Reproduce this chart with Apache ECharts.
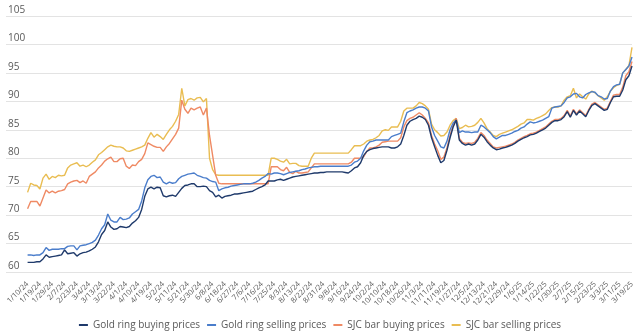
<!DOCTYPE html>
<html><head><meta charset="utf-8">
<script src="https://cdn.jsdelivr.net/npm/echarts@6/dist/echarts.min.js"></script>
<style>html,body{margin:0;padding:0;background:#fff}#c{width:640px;height:336px}</style>
</head><body><div id="c"></div>
<script>
const dateLabels = ['1/10/24','1/19/24','1/29/24','2/7/24','2/23/24','3/4/24','3/13/24','3/22/24','4/1/24','4/10/24','4/19/24','5/2/24','5/11/24','5/21/24','5/30/24','6/8/24','6/18/24','6/27/24','7/6/24','7/16/24','7/25/24','8/3/24','8/13/24','8/22/24','8/31/24','9/8/24','9/16/24','9/24/24','10/2/24','10/10/24','10/18/24','10/26/24','11/3/24','11/11/24','11/19/24','11/27/24','12/5/24','12/13/24','12/21/24','12/29/24','1/6/25','1/14/25','1/22/25','1/30/25','2/7/25','2/15/25','2/23/25','3/3/25','3/11/25','3/19/25'];
const pointsPerLabel = 4;
const seriesNames = ['Gold ring buying prices','Gold ring selling prices','SJC bar buying prices','SJC bar selling prices'];

const goldRingBuying = [61.7,61.7,61.7,61.8,61.8,62.3,63.0,62.6,62.7,62.8,62.9,63.0,63.9,63.2,63.3,63.4,62.8,
63.2,63.4,63.5,63.7,64.0,64.4,65.3,66.6,67.3,68.8,67.9,67.5,67.6,68.0,67.9,67.8,68.0,68.6,69.0,69.6,71.0,73.3,
74.6,74.9,74.6,74.9,74.8,73.4,73.2,73.4,73.5,73.3,74.0,74.7,75.2,75.3,75.5,75.5,75.0,75.0,75.1,75.0,
74.3,74.0,73.2,73.5,73.0,73.3,73.4,73.5,73.7,73.7,73.8,73.9,74.0,74.1,74.2,74.5,74.8,75.0,75.3,76.0,
76.0,76.0,76.2,76.3,76.1,76.3,76.5,76.7,76.8,76.9,77.0,77.1,77.2,77.3,77.4,77.4,77.5,77.5,77.6,77.6,77.6,77.6,77.6,77.6,77.5,77.4,
77.8,78.3,78.5,79.2,80.5,81.2,81.5,81.7,81.8,81.9,82.0,82.0,82.0,81.8,81.8,82.0,82.5,84.0,85.8,86.5,86.8,87.0,87.4,87.2,86.8,85.8,
83.6,82.0,80.5,79.2,79.6,81.4,83.6,85.5,86.7,83.2,82.6,82.3,82.5,82.3,82.5,83.2,84.2,83.7,82.9,82.3,81.8,81.5,81.6,81.8,81.9,82.1,82.3,82.6,83.0,83.3,
83.6,83.8,84.1,84.2,84.4,84.7,85.0,85.3,85.8,86.3,86.6,86.6,86.8,87.3,88.2,87.2,88.4,87.6,88.3,87.8,87.3,88.4,89.3,89.6,89.2,88.8,88.4,88.6,89.8,90.8,90.9,90.9,92.0,93.8,94.5,96.2];

const goldRingSelling = [63.0,63.0,62.9,63.0,63.0,63.4,64.3,63.8,64.0,64.0,64.0,64.1,64.1,64.5,64.6,64.6,63.9,
64.6,64.7,64.8,65.0,65.2,65.6,66.5,67.6,68.3,70.2,69.1,68.8,68.8,69.6,69.2,69.3,69.5,70.2,70.6,71.0,72.5,74.8,
76.2,76.8,77.0,76.6,76.7,75.8,75.5,75.8,75.6,75.7,76.4,76.8,77.0,77.2,77.3,77.4,77.0,76.8,76.6,76.5,
76.1,75.9,75.8,74.3,74.6,74.8,74.9,75.1,75.2,75.3,75.4,75.5,75.5,75.5,75.6,75.8,76.1,76.5,76.8,77.3,
77.2,77.4,77.4,77.3,77.1,77.3,77.5,77.6,77.7,77.8,78.0,78.1,78.3,78.4,78.5,78.5,78.6,78.6,78.6,78.6,78.6,78.6,78.6,78.6,78.6,78.6,
78.8,79.3,79.5,80.0,81.3,82.3,82.9,83.0,83.2,83.2,83.2,83.2,83.2,83.8,84.0,84.2,84.4,86.4,88.0,88.3,88.5,88.8,89.0,89.0,88.8,88.3,
85.5,84.0,83.0,82.0,81.8,83.0,85.0,86.2,86.7,84.5,84.8,84.6,84.6,84.5,84.6,84.6,85.8,85.5,85.0,84.5,83.8,83.4,83.7,84.0,84.0,84.2,84.4,84.7,84.9,85.3,
85.5,86.0,86.4,86.2,86.3,86.5,86.7,87.0,87.3,88.8,89.0,89.1,89.2,89.8,90.6,90.8,91.3,91.4,90.8,90.6,91.2,91.5,91.7,91.6,91.0,90.8,90.4,90.5,91.8,92.6,92.9,93.0,95.0,95.6,96.2,97.8];

const sjcBuying = [71.1,72.4,72.4,72.4,71.6,73.0,74.4,73.9,74.2,73.9,74.2,74.3,74.5,75.5,75.8,76.0,76.1,
75.7,76.0,75.6,76.8,77.2,77.6,78.3,78.8,79.5,79.9,80.2,79.4,79.4,79.9,80.0,78.6,78.2,78.8,78.7,79.4,79.8,80.8,
82.7,82.4,82.1,81.9,81.9,81.2,82.0,82.6,83.4,84.2,85.3,90.2,88.6,87.9,88.8,88.5,88.8,89.0,87.6,88.8,
84.0,80.5,77.0,75.6,75.5,75.5,75.5,75.5,75.5,75.5,75.5,75.5,75.5,75.5,75.5,75.5,75.5,75.5,75.5,75.5,
78.5,78.5,78.5,78.0,77.8,78.4,77.5,77.3,77.7,77.4,77.4,77.5,77.6,78.3,79.0,79.0,79.0,79.0,79.0,79.0,79.0,79.0,79.0,79.0,79.0,79.0,
79.3,80.0,80.0,80.0,80.3,81.2,81.8,81.8,82.0,82.3,82.8,82.9,83.0,83.0,83.0,83.0,83.6,85.5,86.6,87.0,87.2,87.6,88.0,87.6,87.0,86.2,
84.0,82.5,81.3,79.8,80.2,81.8,84.0,85.8,87.0,83.5,82.8,82.6,82.7,82.6,82.8,83.5,84.5,84.0,83.2,82.6,82.0,81.8,81.9,82.0,82.1,82.3,82.5,82.8,83.2,83.5,
83.8,84.0,84.3,84.4,84.6,84.9,85.2,85.5,86.0,86.5,86.8,86.8,87.0,87.5,88.4,87.4,88.6,87.8,88.5,88.0,87.5,88.6,89.5,89.8,89.4,89.0,88.6,88.8,90.0,91.1,91.2,91.2,92.5,94.5,95.2,97.0];

const sjcSelling = [74.0,75.6,75.3,75.2,74.6,76.5,77.2,76.3,76.8,76.6,77.0,76.9,77.0,78.3,78.8,79.0,79.2,
78.6,78.8,78.5,78.8,79.3,79.7,80.6,81.0,81.5,82.0,82.3,82.1,82.0,82.0,81.8,81.3,81.2,81.4,81.6,81.8,82.0,82.3,
83.5,84.5,83.7,84.2,83.8,83.3,84.2,85.0,85.6,86.5,87.7,92.3,89.2,90.3,90.5,90.2,90.6,90.7,89.9,90.5,
80.0,78.0,77.1,77.0,77.0,77.0,77.0,77.0,77.0,77.0,77.0,77.0,77.0,77.0,77.0,77.0,77.0,77.0,77.0,77.0,
80.0,80.0,79.8,79.5,79.3,79.8,79.0,79.1,79.1,78.7,78.6,78.6,78.6,80.0,80.9,80.9,80.9,80.9,80.9,80.9,80.9,80.9,80.9,80.9,80.9,80.9,
81.5,82.2,82.2,82.2,82.5,83.0,83.2,83.3,83.6,84.0,84.8,85.0,84.9,85.5,85.5,85.5,86.5,88.3,88.8,88.8,88.8,89.2,89.8,89.6,89.2,88.6,
86.0,85.0,84.5,83.9,84.0,84.6,85.8,86.6,87.0,85.2,85.4,85.8,85.5,85.6,85.8,86.3,87.0,86.2,85.2,84.6,84.0,83.8,84.2,84.4,84.6,84.8,85.0,85.3,85.6,86.0,
86.2,86.8,86.8,86.7,87.0,87.2,87.5,87.8,88.4,88.9,89.0,89.0,89.2,90.2,90.8,91.0,92.3,90.6,91.3,90.8,90.4,91.3,91.8,91.5,91.0,90.6,90.2,90.8,91.8,92.4,92.8,93.0,95.0,95.6,96.3,99.5];

const colors = ['#1f3a6b','#4a7dcb','#ef8a64','#e9bd52'];
const padCount = 7;

const categories = [];
for (let i = 0; i < padCount; i++) categories.push('');
dateLabels.forEach((d, k) => {
  categories.push(d);
  if (k < dateLabels.length - 1) for (let j = 1; j < pointsPerLabel; j++) categories.push('');
});
const pad = arr => new Array(padCount).fill(null).concat(arr);
const allData = [goldRingBuying, goldRingSelling, sjcBuying, sjcSelling];

const chart = echarts.init(document.getElementById('c'), null, {renderer: 'canvas'});
const font = 'Open Sans';
chart.setOption({
  animation: false,
  backgroundColor: '#fff',
  color: colors,
  grid: {left: 6, right: 8, top: 16, bottom: 64, containLabel: false},
  legend: {
    bottom: 1, left: 'center', icon: 'rect', itemWidth: 9, itemHeight: 2, itemGap: 7,
    textStyle: {fontFamily: font, fontSize: 10, color: '#595959'},
    data: seriesNames
  },
  xAxis: {
    type: 'category', boundaryGap: false, data: categories,
    axisLine: {show: false}, axisTick: {show: false},
    axisLabel: {interval: 0, rotate: 45, fontFamily: font, fontSize: 7.5, color: '#595959', margin: 11},
    splitLine: {show: false}
  },
  yAxis: {
    type: 'value', min: 60, max: 105, interval: 5,
    axisLine: {show: false}, axisTick: {show: false},
    axisLabel: {inside: true, margin: 2, verticalAlign: 'bottom', align: 'left', fontFamily: font, fontSize: 10, color: '#595959', padding: [0,0,1,0]},
    splitLine: {lineStyle: {color: '#e3e3e3', width: 1}}
  },
  series: seriesNames.map((n, i) => ({
    name: n, type: 'line', data: pad(allData[i]), showSymbol: false, symbol: 'none',
    lineStyle: {width: 1.4, color: colors[i]}, itemStyle: {color: colors[i]},
    connectNulls: false, z: 4 - i
  }))
});
</script></body></html>
